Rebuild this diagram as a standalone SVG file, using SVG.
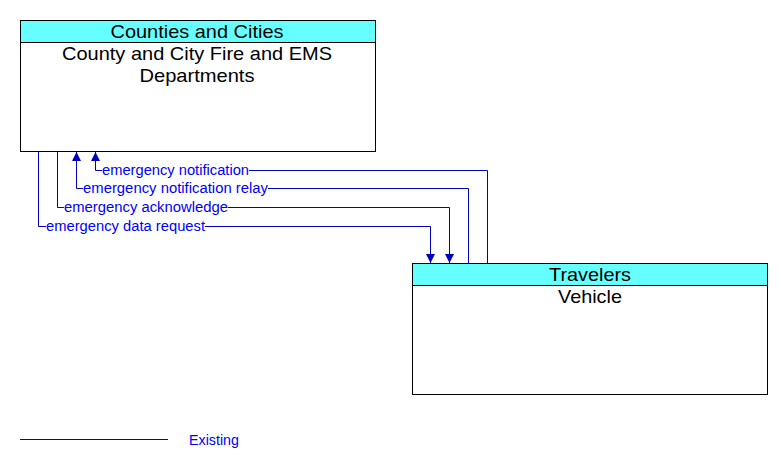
<svg xmlns="http://www.w3.org/2000/svg" width="782" height="466" viewBox="0 0 782 466">
<style>
.box{fill:#fff;stroke:#000;stroke-width:1}
.hdr{fill:#66ffff;stroke:#000;stroke-width:1}
.t{font-family:"Liberation Sans",Arial,sans-serif;font-size:19px;fill:#000;text-anchor:middle}
.c{fill:none;stroke:#0000c0;stroke-width:1}
.l{font-family:"Liberation Sans",Arial,sans-serif;font-size:14px;fill:#0000ff}
.bg{fill:#fff}
</style>
<defs>
<marker id="ah" viewBox="0 0 10 10" refX="10" refY="5" markerWidth="9" markerHeight="9" markerUnits="userSpaceOnUse" orient="auto">
<path d="M0,0 L10,5 L0,10 z" fill="#0000c0"/>
</marker>
</defs>
<g id="node-fire">
<rect class="box" x="20.5" y="20.5" width="355" height="131"/>
<rect class="hdr" x="20.5" y="20.5" width="355" height="22"/>
<text class="t" x="197" y="38" textLength="173" lengthAdjust="spacingAndGlyphs">Counties and Cities</text>
<text class="t" x="197" y="60" textLength="270" lengthAdjust="spacingAndGlyphs">County and City Fire and EMS</text>
<text class="t" x="197" y="82" textLength="115" lengthAdjust="spacingAndGlyphs">Departments</text>
</g>
<g id="node-vehicle">
<rect class="box" x="412.5" y="263.5" width="355" height="131"/>
<rect class="hdr" x="412.5" y="263.5" width="355" height="22"/>
<text class="t" x="590" y="281" textLength="82" lengthAdjust="spacingAndGlyphs">Travelers</text>
<text class="t" x="590" y="303" textLength="64" lengthAdjust="spacingAndGlyphs">Vehicle</text>
</g>
<g id="connectors">
<polyline class="c" points="487.5,263 487.5,170.5 95.5,170.5 95.5,152" marker-end="url(#ah)"/>
<polyline class="c" points="468.5,263 468.5,188.5 76.5,188.5 76.5,152" marker-end="url(#ah)"/>
<polyline class="c" points="57.5,152 57.5,207.5 449.5,207.5 449.5,263" marker-end="url(#ah)"/>
<polyline class="c" points="38.5,152 38.5,226.5 430.5,226.5 430.5,263" marker-end="url(#ah)"/>
<rect class="bg" x="102" y="163" width="147" height="13"/>
<text class="l" x="102" y="175" textLength="147" lengthAdjust="spacingAndGlyphs">emergency notification</text>
<rect class="bg" x="83" y="181" width="185" height="13"/>
<text class="l" x="83" y="193" textLength="185" lengthAdjust="spacingAndGlyphs">emergency notification relay</text>
<rect class="bg" x="64" y="200" width="164" height="13"/>
<text class="l" x="64" y="212" textLength="164" lengthAdjust="spacingAndGlyphs">emergency acknowledge</text>
<rect class="bg" x="46" y="219" width="159" height="13"/>
<text class="l" x="46" y="231" textLength="159" lengthAdjust="spacingAndGlyphs">emergency data request</text>
</g>
<g id="legend">
<line x1="20" y1="439.5" x2="168" y2="439.5" stroke="#0000c0" stroke-width="1"/>
<text x="189" y="445" font-family="Liberation Sans, Arial, sans-serif" font-size="14" fill="#0000ff" textLength="50" lengthAdjust="spacingAndGlyphs">Existing</text>
</g>
</svg>
